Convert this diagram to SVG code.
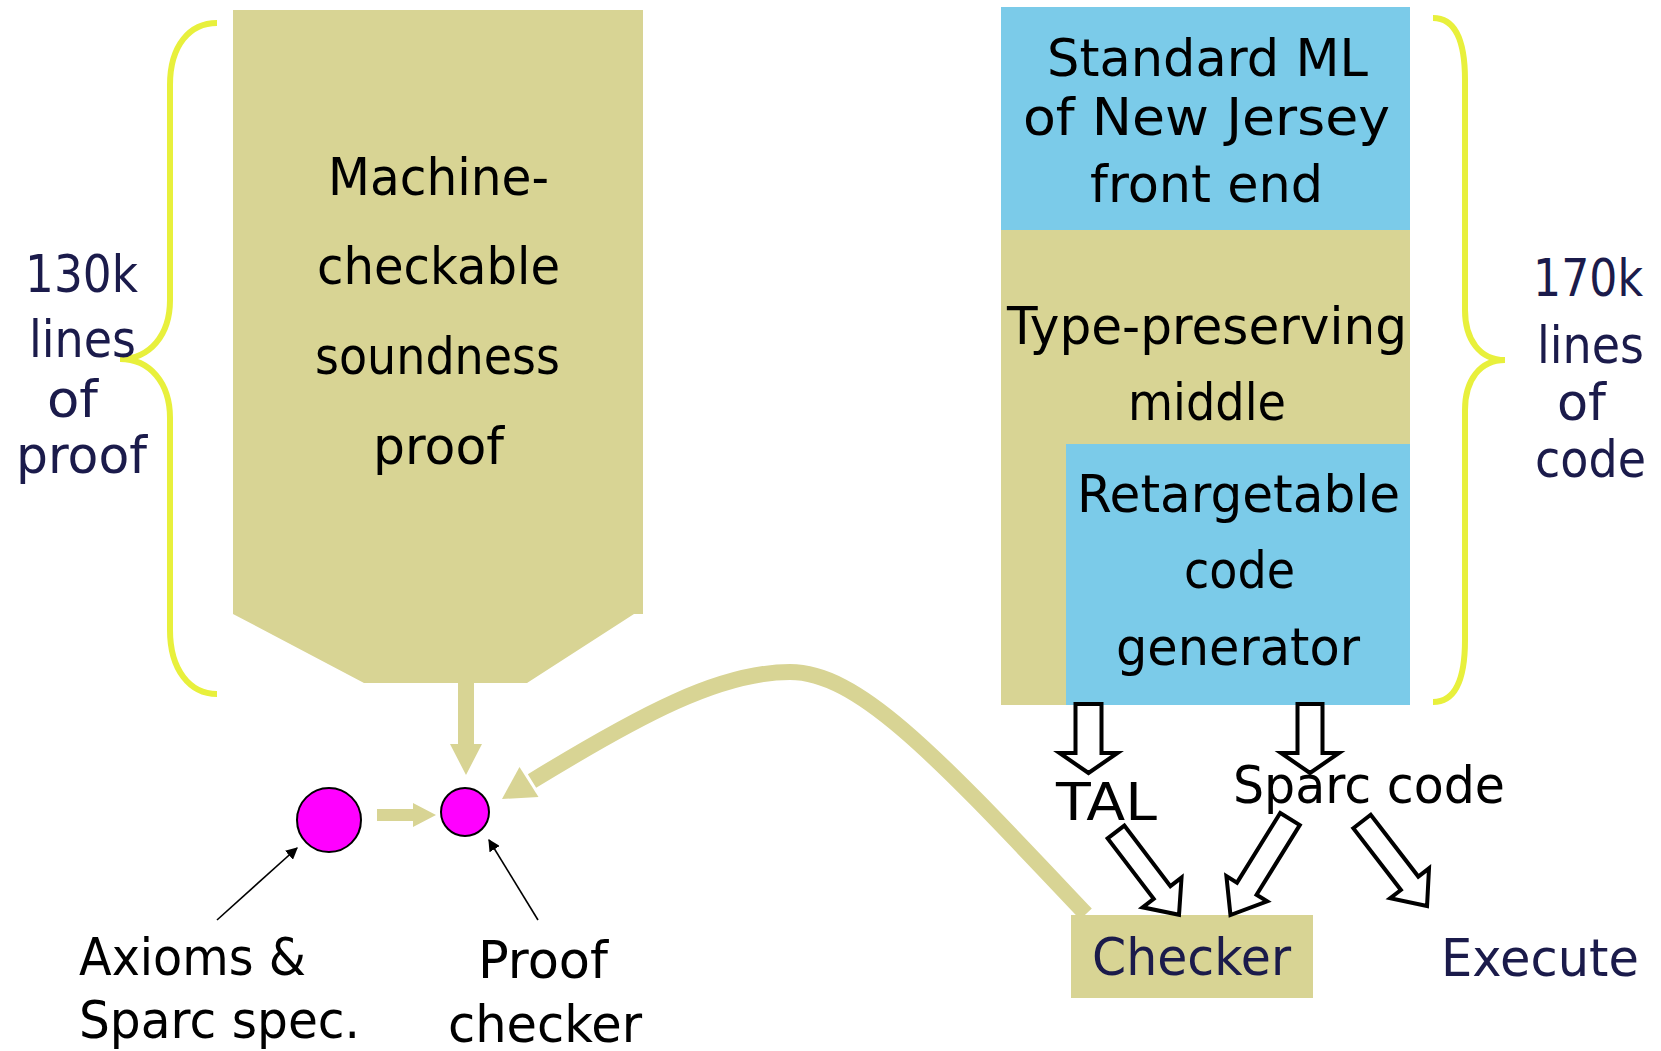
<svg xmlns="http://www.w3.org/2000/svg" width="1661" height="1051" viewBox="0 0 1661 1051">
<style>
text{font-family:"DejaVu Sans","Liberation Sans",sans-serif;font-size:52px}
.k{fill:#000}
.n{fill:#1b1b4b}
.kh{fill:#d8d494}
.bl{fill:#7bcbe9}
.brace{fill:none;stroke:#e8f03c;stroke-width:6}
.hollow{fill:#fff;stroke:#000;stroke-width:4;stroke-linejoin:miter}
.dot{fill:#ff00ff;stroke:#000;stroke-width:2}
.thin{stroke:#000;stroke-width:1.6;fill:none}
</style>
<defs>
<marker id="ah" viewBox="0 0 10 10" refX="9" refY="5" markerWidth="12" markerHeight="12" markerUnits="userSpaceOnUse" orient="auto">
<path d="M0 0 L10 5 L0 10 Z" fill="#000"/>
</marker>
</defs>

<g id="proof-box">
<polygon class="kh" points="233,10 643,10 643,614 634,614 527,683 364,683 233,614"/>
<text class="k" x="328" y="195" textLength="221" lengthAdjust="spacingAndGlyphs">Machine-</text>
<text class="k" x="317" y="284" textLength="243" lengthAdjust="spacingAndGlyphs">checkable</text>
<text class="k" x="315" y="374" textLength="245" lengthAdjust="spacingAndGlyphs">soundness</text>
<text class="k" x="373" y="464" textLength="131" lengthAdjust="spacingAndGlyphs">proof</text>
</g>

<g id="brace-left">
<path class="brace" d="M217 23 C190 23 170 45 170 85 L170 300 C170 335 150 359 120 359 C150 359 170 383 170 418 L170 630 C170 670 190 694 217 694"/>
<text class="n" x="25" y="292" textLength="113" lengthAdjust="spacingAndGlyphs">130k</text>
<text class="n" x="29" y="357" textLength="107" lengthAdjust="spacingAndGlyphs">lines</text>
<text class="n" x="47" y="417" textLength="51" lengthAdjust="spacingAndGlyphs">of</text>
<text class="n" x="16" y="473" textLength="131" lengthAdjust="spacingAndGlyphs">proof</text>
</g>

<g id="sml-front-end">
<rect class="bl" x="1001" y="7" width="409" height="223"/>
<text class="k" x="1047" y="76" textLength="321" lengthAdjust="spacingAndGlyphs">Standard ML</text>
<text class="k" x="1023" y="135" textLength="367" lengthAdjust="spacingAndGlyphs">of New Jersey</text>
<text class="k" x="1090" y="202" textLength="233" lengthAdjust="spacingAndGlyphs">front end</text>
</g>

<g id="middle">
<rect class="kh" x="1001" y="230" width="409" height="475"/>
<text class="k" x="1007" y="344" textLength="400" lengthAdjust="spacingAndGlyphs">Type-preserving</text>
<text class="k" x="1128" y="420" textLength="158" lengthAdjust="spacingAndGlyphs">middle</text>
</g>

<g id="code-generator">
<rect class="bl" x="1066" y="444" width="344" height="261"/>
<text class="k" x="1077" y="512" textLength="323" lengthAdjust="spacingAndGlyphs">Retargetable</text>
<text class="k" x="1184" y="588" textLength="111" lengthAdjust="spacingAndGlyphs">code</text>
<text class="k" x="1116" y="665" textLength="244" lengthAdjust="spacingAndGlyphs">generator</text>
</g>

<g id="brace-right">
<path class="brace" d="M1433 18 C1455 18 1465 40 1465 80 L1465 310 C1465 340 1480 360 1505 360 C1480 360 1465 380 1465 410 L1465 640 C1465 680 1455 702 1433 702"/>
<text class="n" x="1533" y="296" textLength="110" lengthAdjust="spacingAndGlyphs">170k</text>
<text class="n" x="1537" y="363" textLength="107" lengthAdjust="spacingAndGlyphs">lines</text>
<text class="n" x="1557" y="420" textLength="49" lengthAdjust="spacingAndGlyphs">of</text>
<text class="n" x="1535" y="477" textLength="111" lengthAdjust="spacingAndGlyphs">code</text>
</g>

<g id="axioms">
<circle class="dot" cx="329" cy="820" r="32"/>
<text class="k" x="79" y="975" textLength="227" lengthAdjust="spacingAndGlyphs">Axioms &amp;</text>
<text class="k" x="79" y="1038" textLength="281" lengthAdjust="spacingAndGlyphs">Sparc spec.</text>
</g>

<g id="proof-checker">
<circle class="dot" cx="465" cy="812" r="24"/>
<text class="k" x="478" y="978" textLength="130" lengthAdjust="spacingAndGlyphs">Proof</text>
<text class="k" x="448" y="1042" textLength="194" lengthAdjust="spacingAndGlyphs">checker</text>
</g>

<g id="tal-label">
<text class="k" x="1056" y="820" textLength="101" lengthAdjust="spacingAndGlyphs">TAL</text>
</g>
<g id="sparc-label">
<text class="k" x="1233" y="803" textLength="272" lengthAdjust="spacingAndGlyphs">Sparc code</text>
</g>

<g id="checker">
<rect class="kh" x="1071" y="915" width="242" height="83"/>
<text class="n" x="1092" y="975" textLength="199" lengthAdjust="spacingAndGlyphs">Checker</text>
</g>

<g id="execute">
<text class="n" x="1441" y="976" textLength="198" lengthAdjust="spacingAndGlyphs">Execute</text>
</g>

<g id="connectors">
<polygon class="kh" points="458,683 474,683 474,744 482,744 466,775 450,744 458,744"/>
<polygon class="kh" points="377,809 413,809 413,803 436,815 413,827 413,821 377,821"/>
<path d="M1086 914 C940 760 860 672 790 672 C720 672 640 715 532 781" fill="none" stroke="#d8d494" stroke-width="16"/>
<polygon class="kh" points="502,799 519.5,767 538.5,797"/>
<line class="thin" x1="217" y1="920" x2="297" y2="848" marker-end="url(#ah)"/>
<line class="thin" x1="538" y1="920" x2="489" y2="840" marker-end="url(#ah)"/>
<path class="hollow" transform="translate(1088.5,704)" d="M-13 0 L13 0 L13 49 L29 49 L0 69 L-29 49 L-13 49 Z"/>
<path class="hollow" transform="translate(1310,704)" d="M-12.5 0 L12.5 0 L12.5 49 L29 49 L0 69 L-29 49 L-12.5 49 Z"/>
<path class="hollow" transform="translate(1116,832) rotate(-37.3)" d="M-10.5 0 L10.5 0 L10.5 76 L24.5 76 L0 104 L-24.5 76 L-10.5 76 Z"/>
<path class="hollow" transform="translate(1290,819) rotate(31.8)" d="M-11.5 0 L11.5 0 L11.5 82 L24 82 L0 113 L-24 82 L-11.5 82 Z"/>
<path class="hollow" transform="translate(1362,821.5) rotate(-37.6)" d="M-11 0 L11 0 L11 78 L24.5 78 L0 106.6 L-24.5 78 L-11 78 Z"/>
</g>
</svg>
